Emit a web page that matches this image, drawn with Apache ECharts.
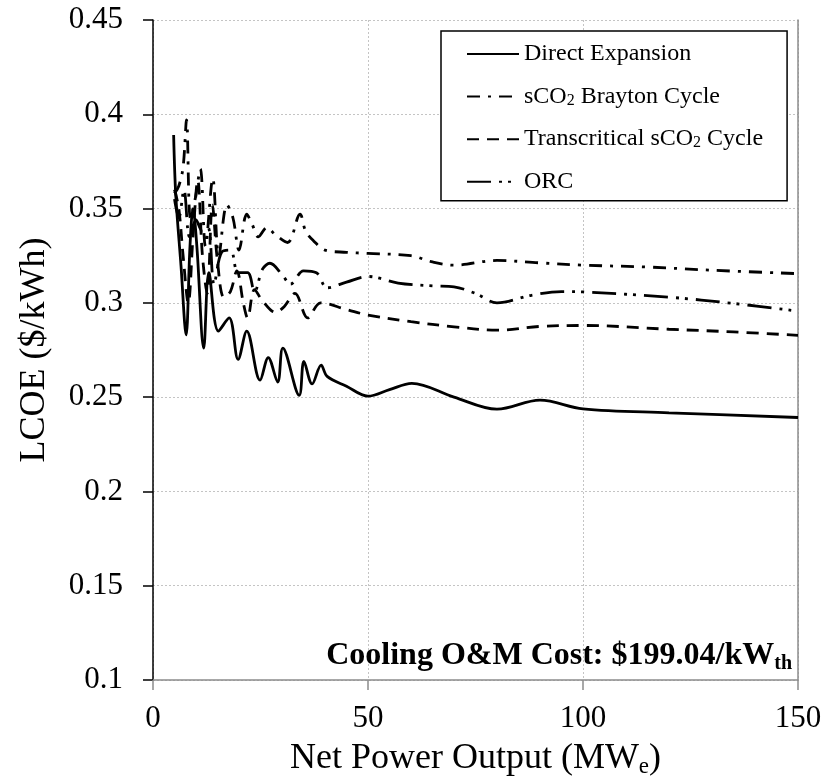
<!DOCTYPE html>
<html>
<head>
<meta charset="utf-8">
<script src="https://cdn.jsdelivr.net/npm/echarts@6/dist/echarts.min.js"></script>
<style>
  html, body { margin: 0; padding: 0; background: #fff; }
  #chart { width: 826px; height: 777px; }
</style>
</head>
<body>
<div id="chart"></div>
<script>
// Levelized cost of electricity vs. net plant output for four power cycles

// Direct Expansion
const deX = [4.8, 5.3, 6.5, 7.7, 8.6, 9.3, 10.2, 11.8, 13.0, 15.2, 17.7, 19.8, 21.8, 24.9, 26.8, 29.0, 30.2, 34.0, 35.1, 37.0, 39.1, 40.5, 45, 50, 55, 60.2, 70, 80, 90, 100, 120, 150];
const deY = [0.389, 0.357, 0.320, 0.283, 0.330, 0.350, 0.330, 0.276, 0.316, 0.285, 0.292, 0.270, 0.285, 0.259, 0.271, 0.258, 0.276, 0.251, 0.269, 0.257, 0.267, 0.261, 0.2558, 0.2505, 0.2540, 0.2573, 0.2500, 0.2436, 0.2484, 0.2438, 0.2417, 0.2392];

// sCO2 Brayton Cycle
const brX = [5.0, 6.0, 7.0, 7.8, 8.7, 9.8, 11.0, 12.2, 13.9, 15.3, 17.2, 18.6, 20.0, 21.8, 23.0, 24.5, 26.5, 28.5, 31.3, 34.2, 35.5, 37.3, 40, 45, 50, 60, 65, 70, 80, 90, 100, 115, 130, 150];
const brY = [0.358, 0.362, 0.372, 0.397, 0.345, 0.355, 0.371, 0.330, 0.366, 0.325, 0.352, 0.345, 0.328, 0.347, 0.342, 0.335, 0.340, 0.336, 0.332, 0.347, 0.338, 0.333, 0.328, 0.3268, 0.3262, 0.3250, 0.3217, 0.3200, 0.3225, 0.3212, 0.3200, 0.3190, 0.3173, 0.3155];

// Transcritical sCO2 Cycle
const trX = [5.0, 6.0, 7.0, 8.2, 9.3, 10.4, 11.5, 12.6, 13.8, 15.0, 16.5, 18.0, 19.5, 21.0, 22.0, 23.6, 25.5, 28.5, 30.5, 33.0, 36.0, 39.0, 45, 50, 60, 70, 80, 90, 100, 120, 135, 150];
const trY = [0.360, 0.350, 0.325, 0.300, 0.335, 0.365, 0.325, 0.305, 0.352, 0.322, 0.303, 0.306, 0.317, 0.300, 0.292, 0.307, 0.301, 0.295, 0.298, 0.305, 0.292, 0.300, 0.2965, 0.2935, 0.2900, 0.2873, 0.2855, 0.2875, 0.2880, 0.2860, 0.2846, 0.2828];

// ORC
const orX = [5.0, 6.0, 7.2, 8.5, 10.0, 11.5, 12.8, 14.2, 16.0, 18.0, 19.8, 22.0, 23.6, 25.5, 27.2, 30.0, 32.0, 35.0, 38.0, 40.5, 45, 50, 57, 65, 70, 75, 80, 88, 95, 100, 120, 135, 150];
const orY = [0.355, 0.345, 0.360, 0.335, 0.344, 0.338, 0.340, 0.310, 0.327, 0.328, 0.316, 0.316, 0.306, 0.318, 0.321, 0.315, 0.310, 0.317, 0.316, 0.308, 0.311, 0.314, 0.3105, 0.3090, 0.3085, 0.3050, 0.3000, 0.3040, 0.3060, 0.3058, 0.3030, 0.2997, 0.2956];

const seriesNames = ['Direct Expansion', 'sCO2 Brayton Cycle', 'Transcritical sCO2 Cycle', 'ORC'];
const xTicks = [0, 50, 100, 150];
const yTicks = [0.1, 0.15, 0.2, 0.25, 0.3, 0.35, 0.4, 0.45];

const pairs = (xs, ys) => xs.map((x, i) => [x, ys[i]]);

const FONT = '"Liberation Serif", "Times New Roman", serif';
const LW = 2.8;

const dashStyles = [
  'solid',
  [13, 8, 3, 8],
  [12, 8],
  [24, 8, 3, 6, 3, 8]
];

const chart = echarts.init(document.getElementById('chart'), null, { renderer: 'canvas' });

const mkSeries = (name, xs, ys, type) => ({
  name: name,
  type: 'line',
  data: pairs(xs, ys),
  smooth: 0.35,
  symbol: 'none',
  showSymbol: false,
  silent: true,
  animation: false,
  lineStyle: { color: '#000', width: LW, type: type, cap: 'butt' },
  itemStyle: { color: '#000' },
  z: 3
});

const subLabel = (name) => {
  if (name.indexOf('sCO2') >= 0) {
    const parts = name.split('sCO2');
    return '{n|' + parts[0] + 'sCO}{s|2}{n|' + parts[1] + '}';
  }
  return '{n|' + name + '}';
};

chart.setOption({
  backgroundColor: '#fff',
  animation: false,
  grid: { left: 153, right: 28, top: 20, bottom: 97, containLabel: false, outerBoundsMode: 'none' },
  title: {
    text: '{b|Cooling O&M Cost: $199.04/kW}{s|th}',
    right: 34,
    top: 637,
    padding: 0,
    textStyle: {
      rich: {
        b: { fontFamily: FONT, fontWeight: 'bold', fontSize: 32, color: '#000' },
        s: { fontFamily: FONT, fontWeight: 'bold', fontSize: 20, color: '#000', padding: [17, 0, 0, 0] }
      }
    }
  },
  legend: {
    orient: 'vertical',
    left: 441,
    top: 31,
    padding: [11, 24, 7, 25],
    itemWidth: 52,
    itemHeight: 20,
    itemGap: 18.6,
    borderColor: '#000',
    borderWidth: 1.5,
    backgroundColor: '#fff',
    data: seriesNames,
    formatter: subLabel,
    itemStyle: { opacity: 0 },
    textStyle: {
      fontFamily: FONT,
      fontSize: 24,
      color: '#000',
      rich: {
        n: { fontFamily: FONT, fontSize: 24, color: '#000' },
        s: { fontFamily: FONT, fontSize: 16, color: '#000', padding: [8, 0, 0, 0] }
      }
    }
  },
  xAxis: {
    type: 'value',
    min: 0,
    max: 150,
    interval: 50,
    name: '{n|Net Power Output (MW}{s|e}{n|)}',
    nameLocation: 'middle',
    nameGap: 60,
    nameTextStyle: {
      rich: {
        n: { fontFamily: FONT, fontSize: 36, color: '#000' },
        s: { fontFamily: FONT, fontSize: 23, color: '#000', padding: [15, 0, 0, 0] }
      }
    },
    axisLine: { show: true, onZero: false, lineStyle: { color: '#8c8c8c', width: 1.5 } },
    axisTick: { show: true, inside: false, length: 10, lineStyle: { color: '#8c8c8c', width: 1.5 } },
    axisLabel: {
      fontFamily: FONT, fontSize: 31, color: '#000', margin: 23,
      formatter: (v) => (xTicks.indexOf(v) >= 0 ? String(v) : '')
    },
    splitLine: { show: true, lineStyle: { color: '#c4c4c4', width: 1, type: [2, 2] } }
  },
  yAxis: [{
    type: 'value',
    min: 0.1,
    max: 0.45,
    interval: 0.05,
    name: 'LCOE ($/kWh)',
    nameLocation: 'middle',
    nameGap: 100,
    nameTextStyle: { fontFamily: FONT, fontSize: 36, color: '#000' },
    axisLine: { show: true, onZero: false, lineStyle: { color: '#000', width: 1.5 } },
    axisTick: { show: true, inside: false, length: 10, lineStyle: { color: '#000', width: 1.5 } },
    axisLabel: {
      fontFamily: FONT, fontSize: 31, color: '#000', margin: 30,
      formatter: (v) => {
        const r = Math.round(v * 100) / 100;
        return yTicks.some(t => Math.abs(t - r) < 1e-9) ? String(r) : '';
      }
    },
    splitLine: { show: true, lineStyle: { color: '#c4c4c4', width: 1, type: [2, 2] } }
  }, {
    // right-hand frame line
    type: 'value',
    position: 'right',
    min: 0.1,
    max: 0.45,
    interval: 0.05,
    axisLine: { show: true, onZero: false, lineStyle: { color: '#8c8c8c', width: 1.5 } },
    axisTick: { show: false },
    axisLabel: { show: false },
    splitLine: { show: false }
  }],
  series: [
    mkSeries(seriesNames[0], deX, deY, dashStyles[0]),
    mkSeries(seriesNames[1], brX, brY, dashStyles[1]),
    mkSeries(seriesNames[2], trX, trY, dashStyles[2]),
    mkSeries(seriesNames[3], orX, orY, dashStyles[3])
  ]
});
</script>
</body>
</html>
